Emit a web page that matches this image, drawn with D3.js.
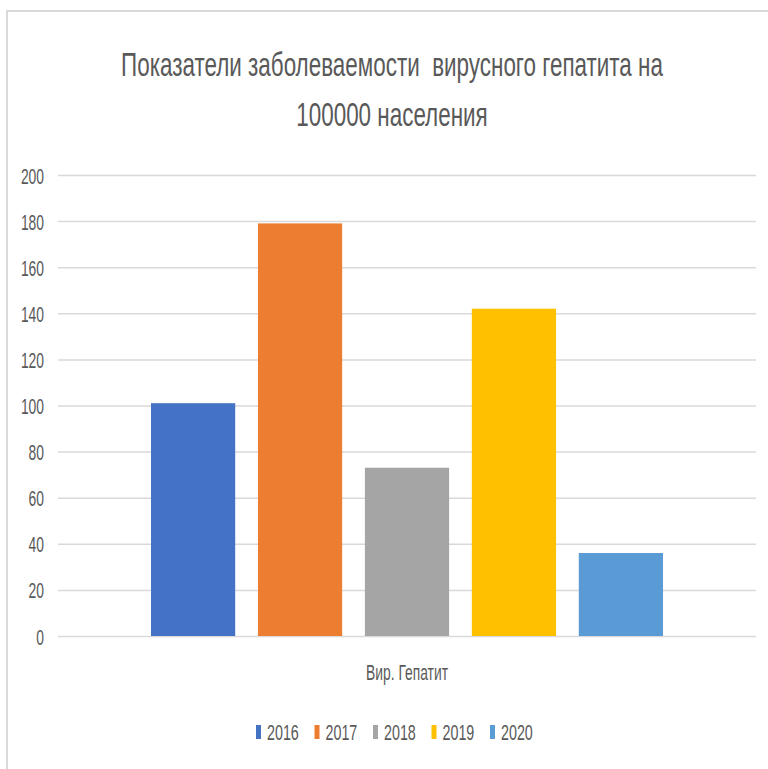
<!DOCTYPE html>
<html>
<head>
<meta charset="utf-8">
<script src="https://cdn.jsdelivr.net/npm/d3@7"></script>
<style>
  html, body { margin: 0; padding: 0; background: #fff; }
  svg { display: block; }
  text { font-family: "Liberation Sans", Arial, sans-serif; fill: #595959; white-space: pre; }
</style>
</head>
<body>
<svg id="chart" width="768" height="769"></svg>
<script>
// Data
const category = "Вир. Гепатит";
const years = ["2016", "2017", "2018", "2019", "2020"];
const values = [101, 179, 73, 142, 36];
const colors = ["#4472C4", "#ED7D31", "#A5A5A5", "#FFC000", "#5B9BD5"];
const yTicks = [0, 20, 40, 60, 80, 100, 120, 140, 160, 180, 200];
const titleLines = ["Показатели заболеваемости  вирусного гепатита на", "100000 населения"];

const W = 768, H = 769;
const SX = 0.66; // narrow glyph width factor
const svg = d3.select("#chart");

// Chart frame (top and left edges)
svg.append("path")
  .attr("d", `M7,${H} L7,11 L${W},11`)
  .attr("fill", "none")
  .attr("stroke", "#d9d9d9")
  .attr("stroke-width", 2);

const plot = { left: 58, right: 756, top: 175, bottom: 636 };

const y = d3.scaleLinear().domain([0, 200]).range([plot.bottom, plot.top]);
const x0 = d3.scaleBand().domain([category]).range([plot.left, plot.right])
  .paddingInner(0).paddingOuter(0.1816);
const x1 = d3.scaleBand().domain(years).range([0, x0.bandwidth()])
  .paddingInner(0.2125).paddingOuter(0);
const color = d3.scaleOrdinal().domain(years).range(colors);

// Title
svg.selectAll("text.title")
  .data(titleLines)
  .join("text")
  .attr("class", "title")
  .attr("xml:space", "preserve")
  .attr("text-anchor", "middle")
  .attr("font-size", 33)
  .attr("transform", (d, i) => `translate(392,${i === 0 ? 76 : 126}) scale(0.68,1)`)
  .text(d => d);

// Y axis with gridlines
const yAxis = d3.axisLeft(y)
  .tickValues(yTicks)
  .tickSize(-(plot.right - plot.left))
  .tickPadding(0)
  .tickFormat(d3.format("d"));

const gy = svg.append("g")
  .attr("transform", `translate(${plot.left},0)`)
  .call(yAxis);
gy.select(".domain").remove();
gy.selectAll(".tick line")
  .attr("stroke", "#d9d9d9")
  .attr("stroke-width", 1.5);
gy.selectAll(".tick text")
  .attr("x", null)
  .attr("dy", null)
  .attr("fill", "#595959")
  .attr("font-size", 22)
  .attr("font-family", "Liberation Sans, Arial, sans-serif")
  .attr("text-anchor", "end")
  .attr("transform", `translate(-14,8) scale(0.63,1)`);

// Bars
const data = years.map((yr, i) => ({ year: yr, value: values[i] }));
svg.append("g")
  .selectAll("rect")
  .data(data)
  .join("rect")
  .attr("x", d => x0(category) + x1(d.year))
  .attr("y", d => y(d.value))
  .attr("width", x1.bandwidth())
  .attr("height", d => y(0) - y(d.value))
  .attr("fill", d => color(d.year));

// Category label
svg.append("text")
  .attr("text-anchor", "middle")
  .attr("font-size", 22)
  .attr("transform", `translate(${x0(category) + x0.bandwidth() / 2},680) scale(0.63,1)`)
  .text(category);

// Legend
const legendStart = 256, legendStep = 58.5;
const lg = svg.append("g");
const items = lg.selectAll("g")
  .data(years)
  .join("g")
  .attr("transform", (d, i) => `translate(${legendStart + i * legendStep},0)`);
items.append("rect")
  .attr("x", 0)
  .attr("y", 725)
  .attr("width", 5)
  .attr("height", 14)
  .attr("fill", d => color(d));
items.append("text")
  .attr("font-size", 22)
  .attr("transform", `translate(11,740) scale(0.65,1)`)
  .text(d => d);
</script>
</body>
</html>
